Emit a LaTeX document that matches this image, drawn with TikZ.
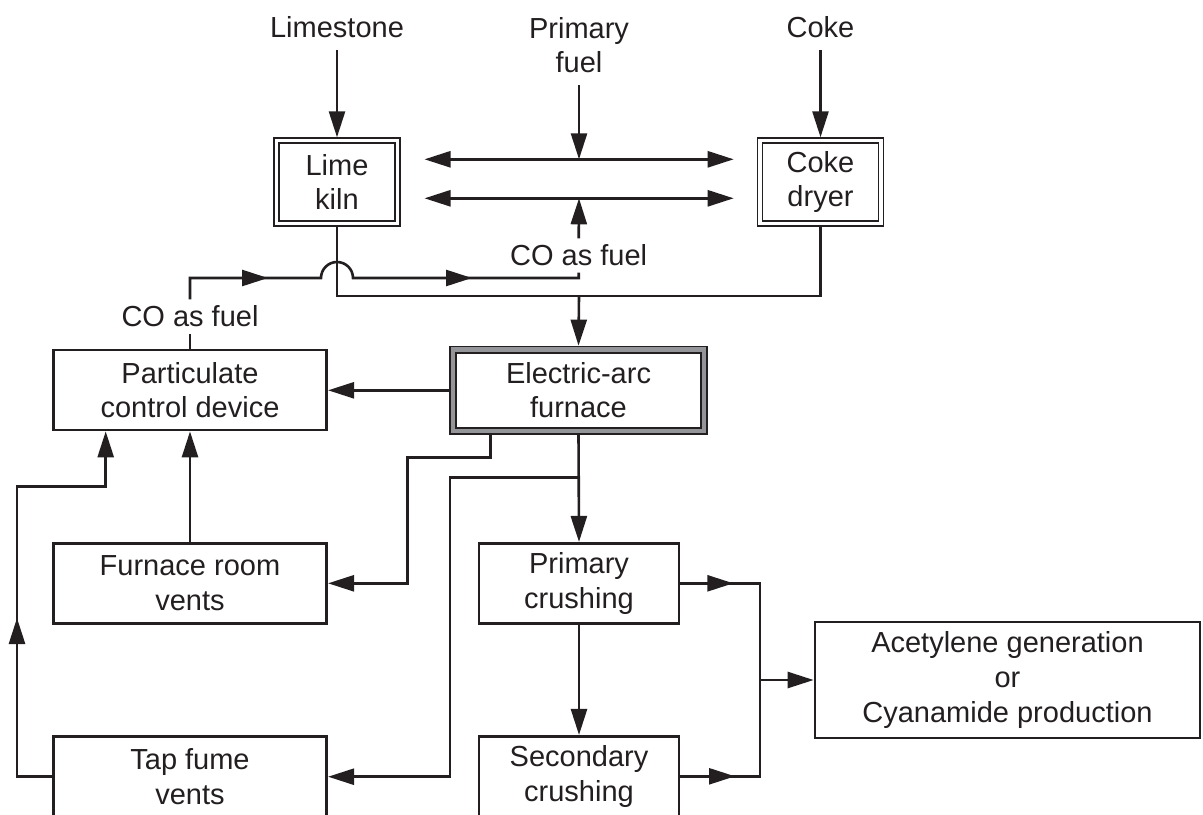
\documentclass[tikz,border=0pt]{standalone}
\usepackage{fontspec}
\setmainfont{Liberation Sans}
\usetikzlibrary{arrows.meta}
\definecolor{ink}{RGB}{35,31,32}
\definecolor{framegray}{RGB}{147,149,152}
\begin{document}
\begin{tikzpicture}[x=0.5pt,y=-0.5pt,
  every node/.style={font=\fontsize{14.5pt}{17.3pt}\selectfont, text=ink},
  conn/.style={draw=ink, line width=1.3pt},
  arr/.style={conn, -{Triangle[length=13pt,width=8pt]}},
  darr/.style={conn, {Triangle[length=13pt,width=8pt]}-{Triangle[length=13pt,width=8pt]}},
  box/.style={draw=ink, line width=1.35pt, fill=white, align=center, inner sep=0pt,
              minimum width=136.7pt, minimum height=40pt},
  dbox/.style={draw=ink, line width=0.75pt, double=white, double distance=1.7pt, outer sep=1.6pt,
               align=center, inner sep=0pt, minimum width=60.5pt, minimum height=41.5pt},
  eafbox/.style={draw=ink, line width=0.8pt, double=framegray, double distance=2.4pt, outer sep=2pt,
               fill=white, align=center, inner sep=0pt, minimum width=125.5pt, minimum height=40.65pt},
  toplabel/.style={align=center, inner sep=6pt},
  colabel/.style={inner sep=3pt}
]
\useasboundingbox (0,0) rectangle (1203,814);
\clip (0,0) rectangle (1203,814);

% top inputs
\node[toplabel, anchor=base] (limestone) at (337,37.3) {Limestone};
\node[toplabel] (pfuel) at (579,45) {Primary\\fuel};
\node[toplabel, anchor=base] (coke) at (820.5,37.3) {Coke};

% kiln / dryer
\node[dbox] (kiln) at (337,182) {Lime\\kiln};
\node[dbox] (dryer) at (820.5,182) {Coke\\dryer};

% furnace and boxes
\node[eafbox] (eaf) at (578.5,390.3) {Electric-arc\\furnace};
\node[box] (part) at (190,390) {Particulate\\control device};
\node[box] (room) at (190,583.3) {Furnace room\\vents};
\node[box] (tap) at (190,776.7) {Tap fume\\vents};
\node[box, minimum width=100pt] (prim) at (579,583.3) {Primary\\crushing};
\node[box, minimum width=100pt] (sec) at (579,776.3) {Secondary\\crushing};
\node[box, minimum width=192.5pt, minimum height=58pt] (acet) at (1007.5,680)
  {Acetylene generation\\or\\Cyanamide production};

% CO labels
\node[colabel] (coup) at (578.7,255.5) {CO as fuel};
\node[colabel] (colow) at (190,316.5) {CO as fuel};

% coordinates
\coordinate (a1l) at (424.5,159.3);
\coordinate (a1r) at (733.7,159.3);
\coordinate (a2l) at (424.5,198.3);
\coordinate (a2r) at (733.7,198.3);
\coordinate (fin) at (579,159.3);
\coordinate (coin) at (579,198.3);
\coordinate (j) at (579,296);
\coordinate (c1) at (190,278);
\coordinate (hopL) at (321,278);
\coordinate (hopR) at (353,278);
\coordinate (c2) at (578.7,278);
\coordinate (t1) at (268,278);
\coordinate (t2) at (472,278);
\coordinate (e1) at (490.7,435);
\coordinate (k1) at (407.3,457.3);
\coordinate (b1) at (579,477.7);
\coordinate (k2) at (450,477.7);
\coordinate (k3) at (17,486.7);
\coordinate (p1x) at (105.7,0);
\coordinate (t3) at (17,618);
\coordinate (v1) at (760,583.3);
\coordinate (v2) at (760,776.3);
\coordinate (v3) at (760,680);
\coordinate (t4) at (733.3,583.3);
\coordinate (t5) at (735,776.3);

% top arrows
\draw[arr] (limestone.south) -- (kiln.north);
\draw[arr] (pfuel.south) -- (fin);
\draw[arr] (coke.south) -- (dryer.north);
\draw[darr] (a1l) -- (a1r);
\draw[darr] (a2l) -- (a2r);
\draw[arr] (coup.north) -- (coin);

% kiln/dryer outputs to furnace
\draw[conn] (kiln.south) |- (j) -| (dryer.south);
\draw[arr] (j) -- (eaf.north);

% CO as fuel loop
\draw[conn] (part.north) -- (colow.south);
\draw[conn] (colow.north) -- (c1) -- (hopL) arc[start angle=180,end angle=0,radius=8pt] -- (c2) -- (coup.south);
\draw[arr] (c1) -- (t1);
\draw[arr] (hopR) -- (t2);

% furnace outputs
\draw[arr] (eaf.west) -- (eaf.west -| part.east);
\draw[arr] (e1) |- (k1) |- (room.east);
\draw[arr] (eaf.south) -- (prim.north);
\draw[arr] (b1) -- (k2) |- (tap.east);

% vents to particulate control
\draw[arr] (room.north) -- (part.south);
\draw[arr] (tap.west) -| (k3) -| (part.south -| p1x);
\draw[arr] (tap.west -| k3) -- (t3);

% crushing
\draw[arr] (prim.south) -- (sec.north);
\draw[conn] (prim.east) -- (v1) -- (v2) -- (sec.east);
\draw[arr] (prim.east) -- (t4);
\draw[arr] (sec.east) -- (t5);
\draw[arr] (v3) -- (acet.west);
\end{tikzpicture}
\end{document}
